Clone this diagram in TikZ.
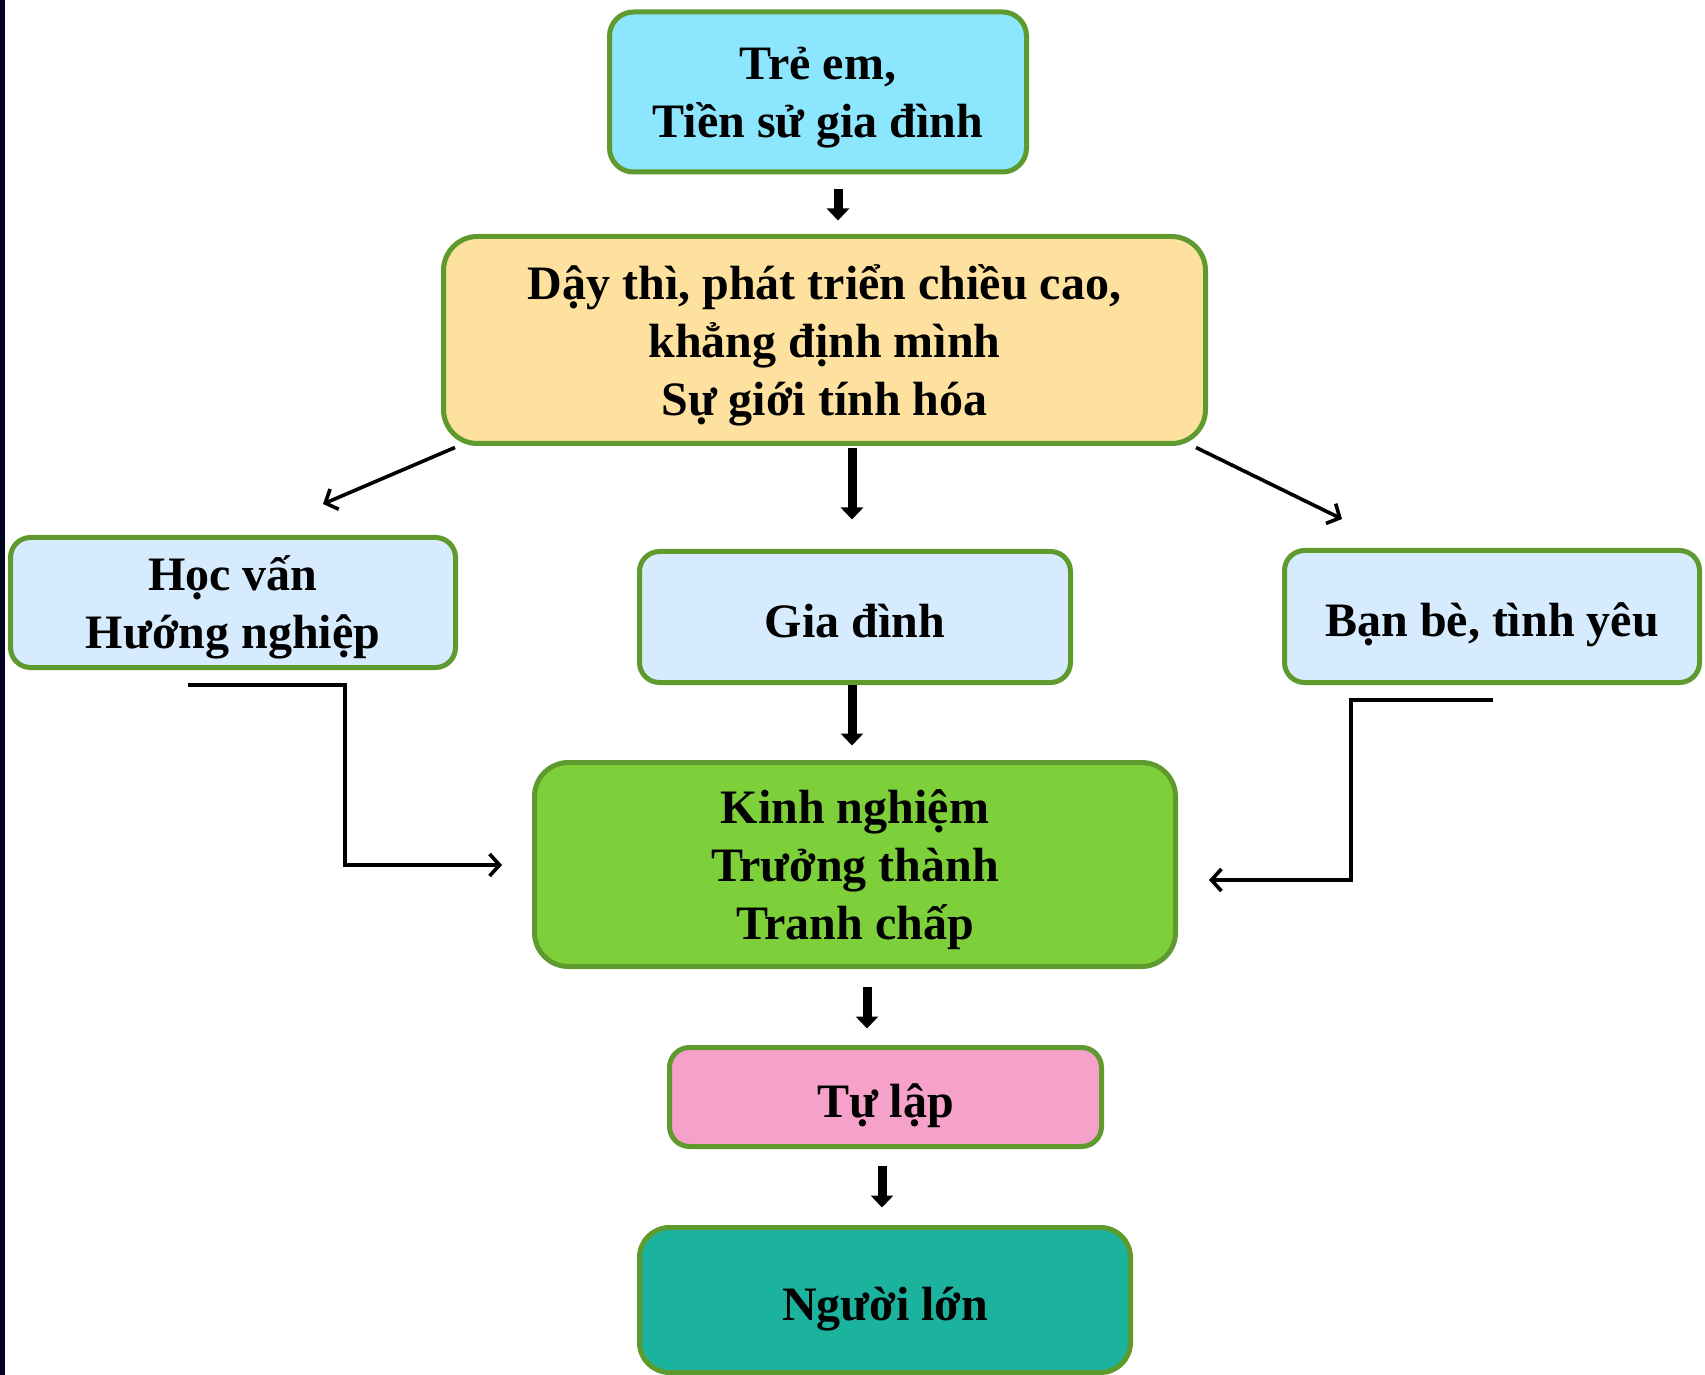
\documentclass[tikz,border=0pt]{standalone}
\usepackage{fontspec}
\setmainfont{Liberation Serif}
\usetikzlibrary{arrows.meta}
\definecolor{bord}{HTML}{5E9A2E}
\definecolor{cyanbox}{HTML}{8CE6FD}
\definecolor{sandbox}{HTML}{FEE19E}
\definecolor{skybox}{HTML}{D6EBFD}
\definecolor{limebox}{HTML}{7ED03B}
\definecolor{pinkbox}{HTML}{F6A1C9}
\definecolor{tealbox}{HTML}{1BB39E}
\definecolor{edgebar}{HTML}{02031F}

\begin{document}
\begin{tikzpicture}[x=0.5pt,y=-0.5pt,
  font=\fontsize{24}{29}\selectfont\bfseries,
  b/.style={draw=bord,line width=2.5pt,rounded corners=10pt,align=center,inner sep=0pt,
            text depth=-2pt},
  bs/.style={b,align=none,text height=20pt,text depth=0pt},
  a/.style={line width=4.5pt,-{Triangle[length=6pt,width=11pt]}},
  t/.style={line width=1.8pt,-{Straight Barb[length=5pt,width=11pt]}}]
\useasboundingbox (0,0) rectangle (1705,1375);
\fill[edgebar] (0,0) rectangle (5,1375);
\node[b,fill=cyanbox,rounded corners=12pt,minimum width=208.5pt,minimum height=80pt] (tre) at (818,92) {Trẻ em,\\Tiền sử gia đình};
\node[b,fill=sandbox,rounded corners=17pt,minimum width=381pt,minimum height=103.5pt] (day) at (824.5,340) {Dậy thì, phát triển chiều cao,\\khẳng định mình\\Sự giới tính hóa};
\node[b,fill=skybox,minimum width=222.5pt,minimum height=65pt] (hoc) at (233,602.5) {Học vấn\\Hướng nghiệp};
\node[bs,fill=skybox,minimum width=215.5pt,minimum height=65.5pt] (gd) at (855,617) {Gia đình};
\node[bs,fill=skybox,minimum width=207.5pt,minimum height=66pt] (ban) at (1492,616.5) {Bạn bè, tình yêu};
\node[b,fill=limebox,rounded corners=17pt,minimum width=320.5pt,minimum height=102pt] (kinh) at (855,864.5) {Kinh nghiệm\\Trưởng thành\\Tranh chấp};
\node[bs,fill=pinkbox,minimum width=216pt,minimum height=49.5pt] (tulap) at (885.5,1097) {Tự lập};
\node[bs,fill=tealbox,rounded corners=15pt,minimum width=245.5pt,minimum height=72.5pt] (nguoi) at (885,1300) {Người lớn};
% thick down arrows
\coordinate (s1) at ([xshift=10pt]tre.south);
\coordinate (s2) at ([xshift=-1.5pt]gd.north);
\coordinate (s3) at ([xshift=-1.5pt]gd.south);
\coordinate (s4) at ([xshift=-9.25pt]tulap.north);
\coordinate (s5) at ([xshift=-1.5pt]nguoi.north);
\draw[a,shorten <=7.5pt,shorten >=6.75pt] (s1) -- (s1 |- day.north);
\draw[a,shorten <=1pt,shorten >=14.75pt] (s2 |- day.south) -- (s2);
\draw[a,shorten >=7.25pt] (s3) -- (s3 |- kinh.north);
\draw[a,shorten <=8.75pt,shorten >=8.25pt] (s4 |- kinh.south) -- (s4);
\draw[a,shorten <=8.25pt,shorten >=8.75pt] (s5 |- tulap.south) -- (s5);
% thin arrows
\coordinate (hocin) at (323,504);
\coordinate (banin) at (1342,519);
\coordinate (hocout) at (188,685);
\coordinate (kinhin) at (502,865);
\coordinate (banout) at (1493,700);
\coordinate (kinhin2) at (1209,880);
\draw[t] ([xshift=7pt,yshift=-0.75pt]day.south west) -- (hocin);
\draw[t] ([xshift=-6pt,yshift=-0.75pt]day.south east) -- (banin);
\draw[t] (hocout) -- ++(157,0) |- (kinhin);
\draw[t] (banout) -- ++(-142,0) |- (kinhin2);
\end{tikzpicture}
\end{document}
